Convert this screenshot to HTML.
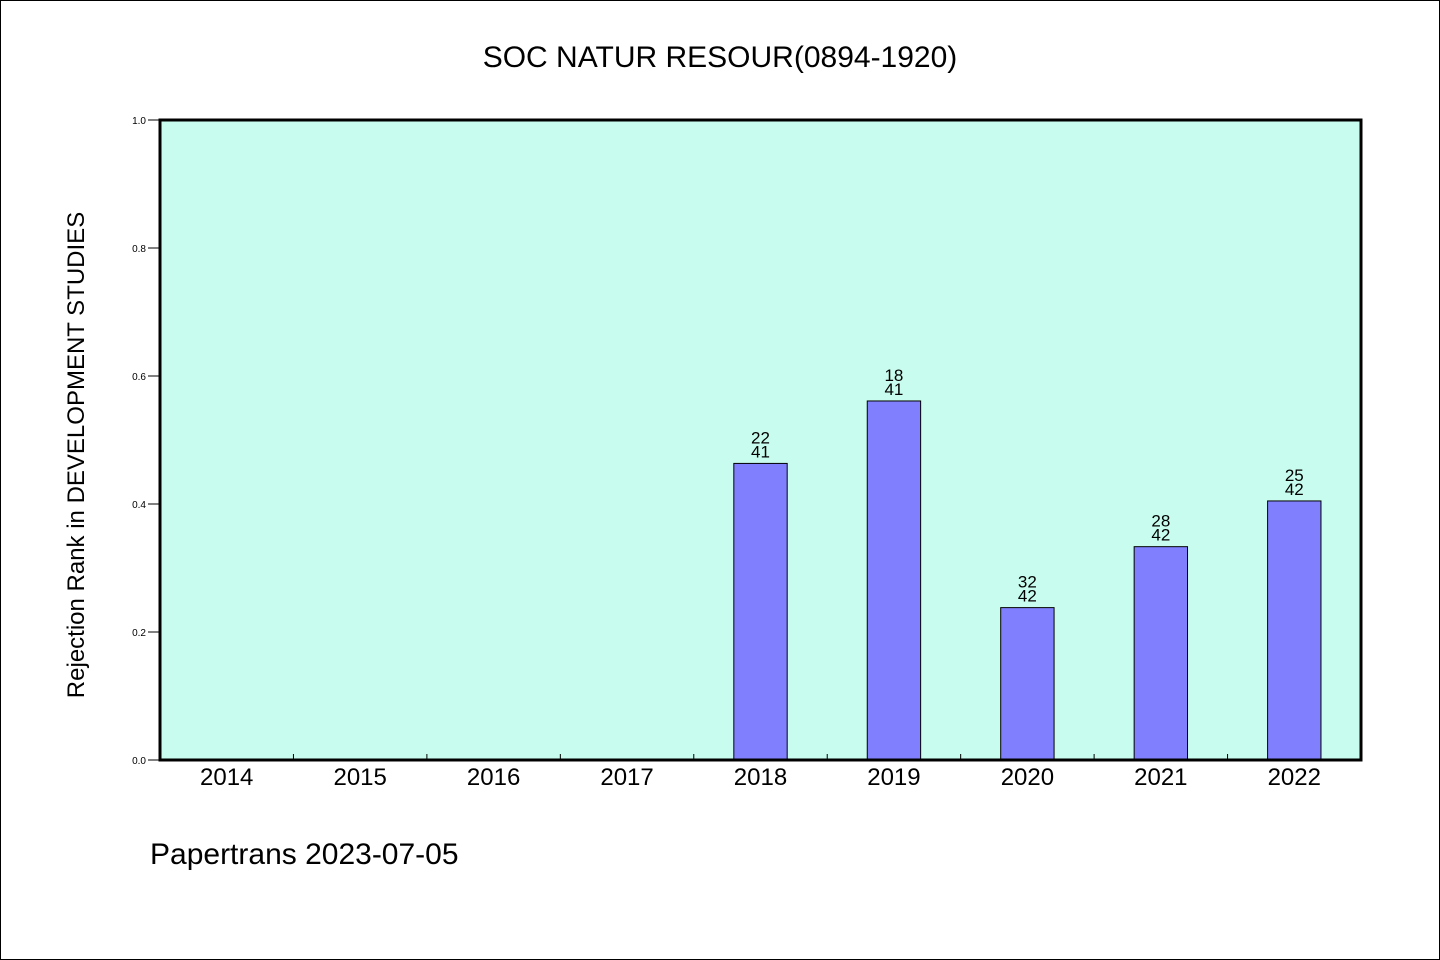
<!DOCTYPE html>
<html><head><meta charset="utf-8"><style>
html,body{margin:0;padding:0;background:#fff}
svg{display:block}
text{font-family:"WenQuanYi Zen Hei","Liberation Sans",sans-serif;fill:#000}
</style></head><body>
<svg id="chart" width="1440" height="960" xmlns="http://www.w3.org/2000/svg">
<rect x="0.5" y="0.5" width="1439" height="959" fill="#fff" stroke="#000"/>
<text x="720" y="67" font-size="30" text-anchor="middle">SOC NATUR RESOUR(0894-1920)</text>
<rect x="160" y="120" width="1201" height="640" fill="#c8fcee"/>
<g id="marks"></g>
<rect x="160" y="120" width="1201" height="640" fill="none" stroke="#000" stroke-width="3"/>
<text transform="translate(84,455) rotate(-90)" font-size="24" text-anchor="middle">Rejection Rank in DEVELOPMENT STUDIES</text>
<text x="150" y="864" font-size="30">Papertrans 2023-07-05</text>
</svg>
<script>
const categories=["2014","2015","2016","2017","2018","2019","2020","2021","2022"];
const ranks=[null,null,null,null,22,18,32,28,25];
const totals=[null,null,null,null,41,41,42,42,42];
const yTicks=[0.0,0.2,0.4,0.6,0.8,1.0];
const NS="http://www.w3.org/2000/svg";
const X0=160,X1=1361,Y0=760,Y1=120;
const band=(X1-X0)/categories.length;
const xc=i=>X0+band*(i+0.5);
const y=v=>Y0-(Y0-Y1)*v;
const g=document.getElementById('marks');
function mk(t,a){const e=document.createElementNS(NS,t);for(const k in a)e.setAttribute(k,a[k]);return e;}
yTicks.forEach(v=>{
 const l=mk('line',{x1:X0-12,x2:X0,y1:y(v),y2:y(v),stroke:'#000','stroke-width':1});
 
 
 g.appendChild(l);
 const t=mk('text',{x:X0-8-6,y:y(v)+4,'font-size':10,'text-anchor':'end'});
 t.textContent=v.toFixed(1);
 
 
 g.appendChild(t);
});
categories.forEach((c,i)=>{
 if(i>0){const l=mk('line',{x1:X0+band*i,x2:X0+band*i,y1:Y0,y2:Y0-6,stroke:'#000','stroke-width':1});
 
 
 g.appendChild(l);}
 const t=mk('text',{x:xc(i),y:785,'font-size':24,'text-anchor':'middle'});
 t.textContent=c;
 
 
 g.appendChild(t);
 if(ranks[i]!=null){
  const v=1-ranks[i]/totals[i];
  const w=band*0.4;
  const r=mk('rect',{x:xc(i)-w/2,y:y(v),width:w,height:Y0-y(v),fill:'#8080ff',stroke:'#000','stroke-width':1});
  
  
  g.appendChild(r);
  const t1=mk('text',{x:xc(i),y:y(v)-20,'font-size':17,'text-anchor':'middle'});
  t1.textContent=ranks[i];
  
  
  g.appendChild(t1);
  const t2=mk('text',{x:xc(i),y:y(v)-6,'font-size':17,'text-anchor':'middle'});
  t2.textContent=totals[i];
  
  
  g.appendChild(t2);
 }
});
</script>
</body></html>
